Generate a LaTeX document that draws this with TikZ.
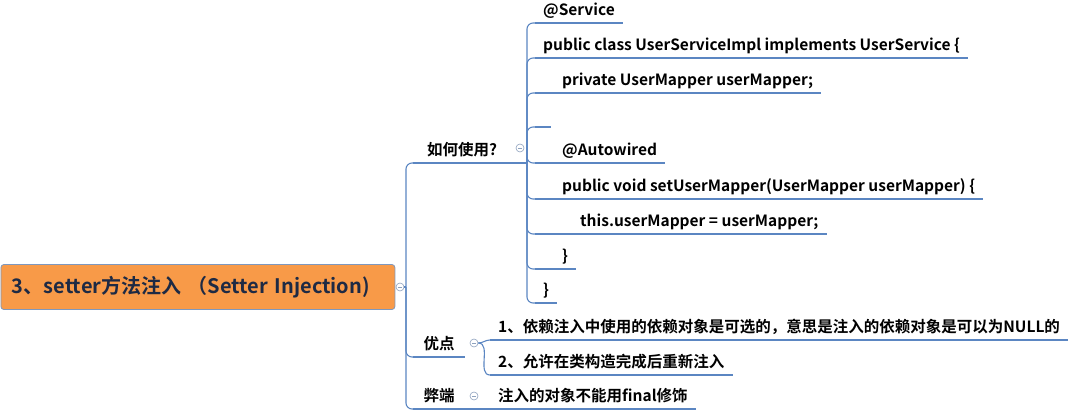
\documentclass[tikz,border=0pt]{standalone}
\usepackage{fontspec}
\setmainfont{Noto Sans CJK SC}[BoldFont={Noto Sans CJK SC Bold}]
\definecolor{linkblue}{HTML}{5B86C2}
\definecolor{rootfill}{HTML}{F89A48}
\definecolor{rootline}{HTML}{7E98BE}
\definecolor{rootink}{HTML}{1E2A44}
\definecolor{foldgrey}{HTML}{8EA2BE}
\begin{document}
\begin{tikzpicture}[x=1pt,y=-1pt]
	\tikzset{rootbox/.style={draw=rootline,fill=rootfill,rounded corners=3pt,line width=.8pt,text width=372pt,inner xsep=11pt,align=left,minimum height=45pt,text=rootink,font=\fontsize{20}{23}\selectfont\bfseries},
		topic/.style={anchor=south west,inner xsep=10pt,inner ysep=4pt,text height=11pt,text depth=3pt,font=\fontsize{15.5}{18}\selectfont\bfseries},
		codeline/.style={topic,inner xsep=8pt},
		fold/.style={circle,draw=foldgrey,fill=white,line width=.6pt,minimum size=8pt,inner sep=0pt,path picture={\draw[foldgrey,line width=.6pt] ([xshift=-2pt]path picture bounding box.center) -- ([xshift=2pt]path picture bounding box.center);}},
		link/.style={draw=linkblue,line width=1.1pt,rounded corners=6pt},
		under/.style={draw=linkblue,line width=2.2pt}}
	\useasboundingbox (0,0) rectangle (1084,414);

	% root and main branches
	\node[rootbox,anchor=west] (root) at (0.5,287) {3、setter方法注入 （Setter Injection)};
	\node[fold] (rc) at (400,287) {};
	\coordinate (trunk) at (406,287);
	\node[topic,minimum width=98pt] (how) at (413,163) {如何使用?};
	\node[fold] (hc) at (520,148) {};
	\node[topic,minimum width=52pt] (good) at (413,357) {优点};
	\node[fold] (gc) at (474,343) {};
	\node[topic,minimum width=52pt] (bad) at (413,409) {弊端};
	\node[fold] (bc) at (474,396) {};

	% code lines
	\coordinate (hj) at (527,163);
	\node[codeline] (svc) at (535,23) {@Service};
	\node[codeline] (cls) at (535,58) {public class UserServiceImpl implements UserService \{};
	\node[codeline] (fld) at (535,93) {\hspace*{19pt}private UserMapper userMapper;};
	\node[codeline] (gap) at (535,127) {};
	\node[codeline] (anno) at (535,163) {\hspace*{19pt}@Autowired};
	\node[codeline] (setter) at (535,199) {\hspace*{19pt}public void setUserMapper(UserMapper userMapper) \{};
	\node[codeline] (assign) at (535,234) {\hspace*{37pt}this.userMapper = userMapper;};
	\node[codeline] (close1) at (535,269) {\hspace*{19pt}\}};
	\node[codeline] (close2) at (535,303) {\}};

	% pros and cons
	\node[codeline] (good1) at (490,340) {1、依赖注入中使用的依赖对象是可选的，意思是注入的依赖对象是可以为NULL的};
	\node[codeline] (good2) at (490,375) {2、允许在类构造完成后重新注入};
	\node[codeline] (bad1) at (490,409) {注入的对象不能用final修饰};

	% connectors
	\draw[link] (rc) -- (trunk);
	\foreach \n in {how,good,bad}
		\draw[link] (trunk) |- (\n.south west);
	\draw[link] (how.south east) -- (hj);
	\foreach \n in {svc,cls,fld,gap,anno,setter,assign,close1,close2}
		\draw[link] (hj) |- (\n.south west);
	\draw[link] (gc.east) to[out=0,in=180] (good1.south west);
	\draw[link] (gc.east) to[out=0,in=180] (good2.south west);
	\draw[link] (bad.south east) -- (bad1.south west);

	% underlines
	\foreach \n in {how,good,bad,svc,cls,fld,gap,anno,setter,assign,close1,close2,good1,good2,bad1}
		\draw[under] (\n.south west) -- (\n.south east);
\end{tikzpicture}
\end{document}
